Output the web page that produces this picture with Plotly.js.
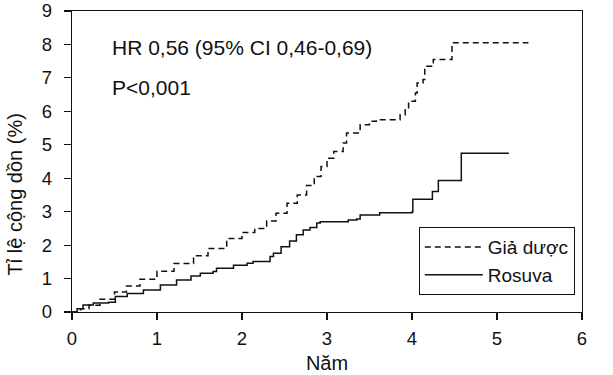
<!DOCTYPE html>
<html>
<head>
<meta charset="utf-8">
<script src="https://cdn.plot.ly/plotly-3.0.1.min.js"></script>
<style>html,body{margin:0;padding:0;background:#fff;}#chart{width:613px;height:375px;}</style>
</head>
<body>
<div id="chart"></div>
<script>
const placeboYears = [0,0.1,0.2,0.33,0.5,0.64,0.8,1.0,1.2,1.43,1.6,1.82,2.0,2.15,2.29,2.4,2.53,2.65,2.76,2.85,2.93,3.0,3.08,3.19,3.23,3.39,3.5,3.58,3.86,3.92,3.96,4.04,4.06,4.13,4.15,4.23,4.25,4.47,5.37];
const placeboRate  = [0,0.1,0.2,0.38,0.6,0.78,0.98,1.22,1.45,1.68,1.9,2.2,2.38,2.5,2.72,2.95,3.25,3.5,3.78,4.05,4.35,4.6,4.8,5.05,5.35,5.6,5.7,5.75,5.9,6.05,6.3,6.55,6.85,6.95,7.35,7.45,7.55,8.05,8.05];
const rosuvaYears  = [0,0.06,0.13,0.25,0.43,0.51,0.65,0.84,1.04,1.23,1.4,1.51,1.66,1.70,1.9,2.06,2.13,2.29,2.33,2.37,2.46,2.56,2.64,2.72,2.8,2.88,2.92,3.15,3.25,3.35,3.39,3.62,4.0,4.01,4.24,4.31,4.58,5.14];
const rosuvaRate   = [0,0.1,0.21,0.27,0.29,0.46,0.55,0.66,0.81,0.96,1.08,1.16,1.21,1.31,1.4,1.46,1.51,1.51,1.66,1.76,1.95,2.12,2.31,2.45,2.53,2.66,2.70,2.70,2.75,2.78,2.90,2.97,3.0,3.37,3.60,3.93,4.75,4.75];
const seriesNames = ["Giả dược","Rosuva"];
const xTitle = "Năm";
const yTitle = "Tỉ lệ cộng dồn (%)";
const noteLines = ["HR 0,56 (95% CI 0,46-0,69)","P<0,001"];

const FONT = "Liberation Sans, Arial, sans-serif";
const INK = "#111";

const traces = [
  {x: placeboYears, y: placeboRate, name: seriesNames[0], mode: "lines",
   line: {shape: "hv", color: INK, width: 1.5, dash: "6px,4px"}},
  {x: rosuvaYears, y: rosuvaRate, name: seriesNames[1], mode: "lines",
   line: {shape: "hv", color: INK, width: 1.5}}
];

const axisCommon = {
  showgrid: false, zeroline: false, showline: true, mirror: true,
  linecolor: INK, linewidth: 1.3, ticks: "outside", tickcolor: INK,
  ticklen: 7, tickwidth: 1.2, tickfont: {family: FONT, size: 18.5, color: INK},
  dtick: 1
};

const layout = {
  width: 613, height: 375,
  margin: {l: 72, r: 31, t: 11, b: 63},
  paper_bgcolor: "#fff", plot_bgcolor: "#fff",
  font: {family: FONT, color: INK},
  showlegend: true,
  xaxis: Object.assign({}, axisCommon, {range: [0, 6], tick0: 0, ticklabelstandoff: 2,
    title: {text: xTitle, font: {family: FONT, size: 20, color: INK}, standoff: 8}}),
  yaxis: Object.assign({}, axisCommon, {range: [0, 9], tick0: 0, ticklabelstandoff: 8}),
  legend: {x: 0.68, y: 0.282, xanchor: "left", yanchor: "top",
    bgcolor: "#fff", bordercolor: INK, borderwidth: 1,
    font: {family: FONT, size: 19, color: INK}, itemwidth: 58,
    tracegroupgap: 0},
  annotations: [
    {xref: "paper", yref: "paper", x: 0.075, y: 0.88, xanchor: "left", yanchor: "middle",
     text: noteLines[0], showarrow: false, font: {family: FONT, size: 21, color: INK}},
    {xref: "paper", yref: "paper", x: 0.075, y: 0.747, xanchor: "left", yanchor: "middle",
     text: noteLines[1], showarrow: false, font: {family: FONT, size: 21, color: INK}},
    {xref: "paper", yref: "paper", x: -0.111, y: 0.392, xanchor: "center", yanchor: "middle",
     text: yTitle, textangle: -90, showarrow: false, font: {family: FONT, size: 20, color: INK}}
  ]
};

Plotly.newPlot("chart", traces, layout, {staticPlot: true, displayModeBar: false});
</script>
</body>
</html>
